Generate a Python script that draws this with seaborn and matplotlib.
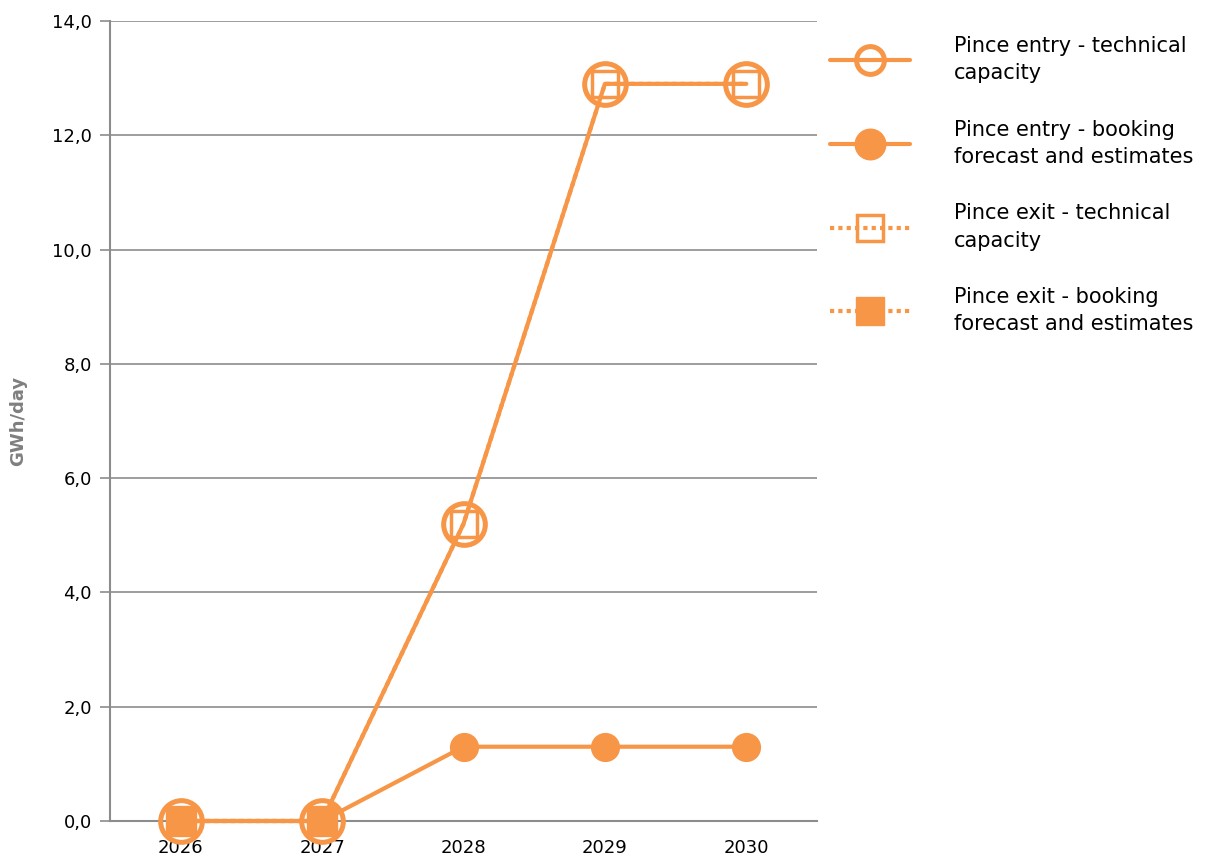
import numpy as np
import pandas as pd
import matplotlib
matplotlib.use("Agg")
import matplotlib.pyplot as plt
import seaborn as sns
from matplotlib.ticker import FuncFormatter

years = [2026, 2027, 2028, 2029, 2030]
entry_technical = [0.0, 0.0, 5.2, 12.9, 12.9]
entry_booking = [0.0, 0.0, 1.3, 1.3, 1.3]
exit_technical = [0.0, 0.0, 5.2, 12.9, 12.9]
exit_booking = [0.0, 0.0, np.nan, np.nan, np.nan]
labels = ["Pince entry - technical\ncapacity",
          "Pince entry - booking\nforecast and estimates",
          "Pince exit - technical\ncapacity",
          "Pince exit - booking\nforecast and estimates"]

sns.set_theme(style="white")
plt.rcParams['font.family'] = ['DejaVu Sans']

orange = "#F79646"
fig = plt.figure(figsize=(12.05, 8.67), dpi=100)
ax = fig.add_axes([110/1205, 1-821/867, (817-110)/1205, (821-21)/867])

sns.lineplot(x=years, y=entry_technical, ax=ax, color=orange, linewidth=3,
             marker='o', markersize=30, markerfacecolor='none',
             markeredgecolor=orange, markeredgewidth=3.6, label=labels[0], zorder=3,
             clip_on=False)
sns.lineplot(x=years, y=entry_booking, ax=ax, color=orange, linewidth=3,
             marker='o', markersize=20, markerfacecolor=orange,
             markeredgecolor=orange, markeredgewidth=1, label=labels[1], zorder=4,
             clip_on=False)
sns.lineplot(x=years, y=exit_technical, ax=ax, color=orange, linewidth=3,
             linestyle=(0, (1, 1)), marker='s', markersize=19, markerfacecolor='none',
             markeredgecolor=orange, markeredgewidth=2.5, label=labels[2], zorder=5,
             clip_on=False)
sns.lineplot(x=years, y=exit_booking, ax=ax, color=orange, linewidth=3,
             linestyle=(0, (1, 1)), marker='s', markersize=21, markerfacecolor=orange,
             markeredgecolor=orange, markeredgewidth=1, label=labels[3], zorder=6,
             clip_on=False)

ax.set_xlim(2025.5, 2030.5)
ax.set_ylim(0, 14)
ax.set_yticks(np.arange(0, 14.1, 2))
ax.yaxis.set_major_formatter(FuncFormatter(lambda v, p: f"{v:.1f}".replace('.', ',')))
ax.set_xticks(years)
ax.set_xticklabels([str(y) for y in years])
ax.grid(axis='y', color='#8c8c8c', linewidth=1.2)
ax.set_axisbelow(True)
for s in ['top', 'right']:
    ax.spines[s].set_visible(False)
ax.spines['left'].set_color('#8c8c8c')
ax.spines['left'].set_linewidth(1.5)
ax.spines['bottom'].set_color('#8c8c8c')
ax.spines['bottom'].set_linewidth(1.5)
ax.tick_params(axis='y', which='major', direction='out', length=7, width=1.2,
               color='#8c8c8c', left=True, labelsize=13, labelcolor='black', pad=6)
ax.tick_params(axis='x', which='major', length=0, labelsize=13, labelcolor='black', pad=13)
ax.set_xlabel("")
ax.set_ylabel("GWh/day", fontsize=13, fontweight='bold', color='#7f7f7f', labelpad=18)

ax.get_legend().remove()
handles, labs = ax.get_legend_handles_labels()
leg = fig.legend(handles, labs, loc='upper left', bbox_to_anchor=(830/1205, 1-36/867),
                 frameon=False, fontsize=15, handlelength=3.84, handletextpad=2.1,
                 labelspacing=1.75, borderpad=0, borderaxespad=0)
for t in leg.get_texts():
    t.set_linespacing(1.45)
    t.set_color('black')
sizes = [20, 22, 19, 20]
for h, s in zip(leg.legend_handles, sizes):
    h.set_markersize(s)

fig.savefig("out.png", dpi=100)
